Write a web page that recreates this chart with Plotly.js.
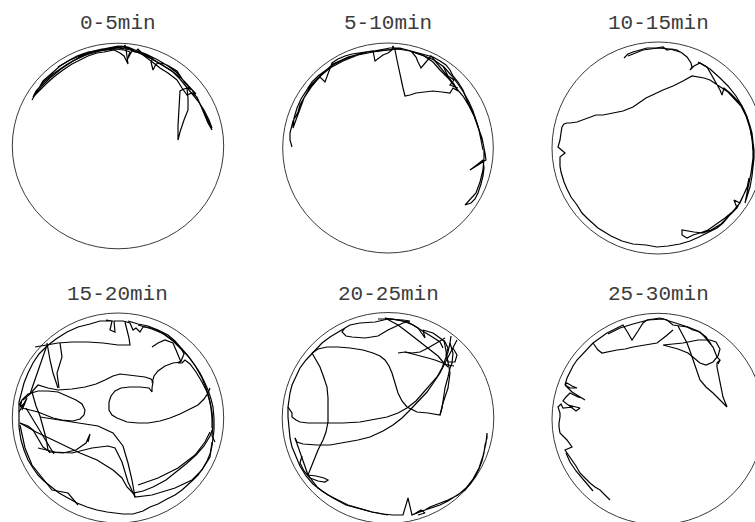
<!DOCTYPE html>
<html>
<head>
<meta charset="utf-8">
<script src="https://cdn.plot.ly/plotly-3.0.1.min.js"></script>
<style>
  html, body { margin: 0; padding: 0; background: #fff; }
  #chart { width: 755px; height: 522px; }
</style>
</head>
<body>
<div id="chart"></div>
<script>
// Session labels, one per 5-minute bin
const sessionLabels = ["0-5min", "5-10min", "10-15min", "15-20min", "20-25min", "25-30min"];

// Tracked positions relative to the arena centre (x right, y up), one stroke per list.
const track0_5 = [
  [[-86,46],[-80,56],[-75,65],[-67,72],[-58,80],[-50,85],[-41,90],[-33,93],[-25,95],[-16,97],
   [-8,98],[0,99],[5,97],[7,101],[8,97],[10,82],[6,90],[2,93],[-4,96],[-8,95],
   [-14,94],[-21,93],[-30,90],[-38,86],[-46,82],[-55,76],[-63,70],[-71,63],[-78,56],[-85,49],
   [-82,55],[-74,64],[-65,72],[-52,81],[-40,88],[-28,93],[-15,96],[-5,98],[3,99],[10,98],
   [14,96],[17,94],[20,97],[24,93],[30,90],[35,88],[33,84],[35,76],[38,82],[43,83],
   [49,81],[54,78],[59,75],[63,69],[67,63],[71,59],[74,56],[70,58],[66,57],[62,55],
   [61,40],[60,20],[60,6],[62,14],[66,26],[70,36],[70,48],[69,58],[72,57],[74,56],
   [79,48],[85,36],[90,26],[94,16],[92,20],[90,23],[85,35],[79,49],[74,53],[69,51],
   [64,58],[59,66],[50,73],[42,78],[33,85],[25,91],[17,96],[10,99],[3,100],[-5,99],
   [-12,97],[-20,96],[-30,94],[-40,89],[-25,95],[-10,98],[0,100],[12,97],[20,95],[28,92],
   [40,86],[50,80],[58,74],[65,66],[72,58],[78,52]],
  [[-60,79],[-48,86],[-36,91],[-22,95],[-10,97],[0,98],[8,97],[16,95],[26,91],[36,86],
   [46,80],[55,74],[62,67],[68,60],[74,53],[80,45],[86,36],[91,26],[94,18]],
  [[-84,50],[-76,60],[-68,68],[-57,77],[-45,85],[-32,91],[-18,95],[-4,97],[6,96],[12,94],
   [9,86],[14,95],[22,93],[32,88],[44,81],[54,75],[62,68]]
];

const track5_10 = [
  [[-96,1],[-98,8],[-98,15],[-96,22],[-95,27],[-92,32],[-90,36],[-88,43],[-85,48],[-81,55],
   [-78,61],[-72,67],[-68,71],[-63,66],[-61,72],[-58,80],[-56,85],[-50,89],[-43,92],[-36,94],
   [-30,95],[-22,96],[-15,97],[-13,87],[-9,90],[-5,93],[0,95],[4,98],[5,102],[7,98],
   [9,88],[12,72],[15,60],[17,52],[22,53],[28,55],[36,56],[45,57],[54,56],[62,55],
   [65,60],[70,57],[66,64],[62,69],[58,74],[53,80],[48,86],[43,92],[38,86],[33,80],
   [30,86],[28,91],[23,97],[15,99],[8,99],[0,98],[-10,97],[-20,96],[-32,93],[-45,88],
   [-55,83],[-62,78],[-70,72],[-76,66],[-82,57],[-87,49],[-91,40],[-94,30],[-95,20],[-92,28],
   [-88,38],[-84,50],[-76,62],[-66,74],[-55,84],[-40,91],[-25,95],[-10,98],[2,100],[12,100],
   [20,98],[28,96],[38,93],[45,91],[52,87],[58,83],[62,78],[65,72],[70,66],[75,58],
   [78,50],[82,42],[86,33],[89,25],[92,15],[95,5],[97,-5],[98,-12],[90,-17],[82,-22],
   [90,-16],[95,-12],[96,-20],[95,-28],[93,-36],[90,-45],[87,-51],[83,-55],[77,-57],[82,-52],
   [88,-45],[92,-34],[95,-22],[96,-10],[96,0],[94,10],[90,22],[86,32],[81,42],[75,52],
   [68,60],[60,70],[52,78],[45,86],[36,92],[25,96]],
  [[-80,60],[-70,70],[-58,80],[-45,87],[-30,93],[-15,96],[0,98],[10,99],[22,97],[34,93],
   [46,88],[56,81],[63,73],[70,64],[76,55],[81,46],[85,37],[88,28],[91,18],[93,8],[95,-2]],
  [[55,82],[60,72],[66,68],[62,63],[70,60]]
];

const track10_15 = [
  [[-34,90],[-30,94],[-25,96],[-18,98],[-11,100],[-1,100],[5,101],[9,98],[14,99],[19,98],
   [24,95],[29,91],[33,85],[34,81],[32,78],[36,82],[42,85],[49,81],[55,71],[58,66],
   [62,58],[64,53],[66,60],[72,55],[76,51],[79,48],[82,45],[86,38],[89,31],[92,22],
   [94,15],[95,6],[96,-2],[96,-10],[95,-19],[94,-28],[92,-39],[89,-50],[87,-55],[90,-40],
   [93,-25],[95,-10],[95,5],[92,20],[88,32],[83,42],[76,50],[70,56],[64,60],[58,64],
   [52,68],[46,70],[40,71],[34,72],[25,67],[15,62],[5,58],[-2,55],[-12,50],[-25,41],
   [-35,37],[-45,35],[-55,33],[-62,33],[-70,30],[-81,26],[-88,25],[-91,25],[-94,24],[-96,21],
   [-97,15],[-98,8],[-100,1],[-93,-5],[-98,-9],[-98,-18],[-97,-24],[-94,-34],[-91,-41],[-87,-49],
   [-81,-57],[-76,-65],[-70,-71],[-60,-80],[-47,-88],[-36,-93],[-25,-96],[-12,-97],[-1,-99],[10,-98],
   [22,-96],[32,-93],[41,-89],[51,-84],[59,-80],[65,-75],[71,-68],[77,-61],[82,-55],[86,-46],
   [90,-37],[88,-40],[82,-55],[76,-52],[79,-60],[67,-70],[58,-76],[50,-82],[42,-85],[35,-87],
   [29,-90],[24,-87],[24,-82],[29,-83],[36,-84],[45,-85],[53,-82],[63,-76],[71,-68],[79,-60],
   [84,-50],[89,-40],[91,-30]],
  [[40,86],[52,79],[62,70],[70,62],[78,52],[84,42],[89,31],[92,20],[94,9],[95,-2]],
  [[-30,92],[-15,98],[0,100],[12,99],[22,96]]
];

const track15_20 = [
  [[-5,97],[-18,97],[-28,94],[-40,91],[-51,86],[-62,79],[-71,72],[-79,64],[-85,55],[-90,45],
   [-94,35],[-97,25],[-99,16],[-99,8],[-99,0],[-99,-9],[-98,-16],[-97,-22],[-94,-32],[-90,-42],
   [-85,-50],[-80,-57],[-74,-63],[-67,-69],[-59,-75],[-50,-80],[-41,-85],[-31,-89],[-21,-92],[-11,-94],
   [0,-95],[5,-96],[15,-96],[25,-93],[32,-89],[40,-86],[49,-81],[57,-77],[64,-72],[70,-67],
   [75,-62],[80,-57],[85,-50],[89,-43],[92,-36],[94,-28],[95,-22],[96,-12],[96,0],[95,11],
   [93,19],[90,28],[86,37],[82,45],[76,54],[69,63],[62,70],[55,77],[47,83],[39,88],
   [30,91],[25,91],[22,86],[18,90],[15,88],[12,95],[5,97],[-4,97],[-3,86],[-8,88],
   [-6,97],[-12,98]],
  [[10,97],[20,94],[30,92],[40,88],[50,83],[57,77],[63,70],[66,64],[63,57],[60,55],
   [64,55],[67,58],[72,54],[78,46],[84,36],[89,26],[92,16],[94,6],[95,-6],[94,-18],[97,-24]],
  [[20,93],[34,89],[46,84],[56,77],[64,69],[71,61],[78,51],[84,40],[88,30],[91,20],
   [93,10],[94,0],[94,-10]],
  [[-83,71],[-72,73],[-60,75],[-46,76],[-30,76],[-15,75],[0,73],[8,73],[12,73],[11,80],[9,88],[7,96]],
  [[-71,75],[-70,68],[-68,58],[-65,45],[-62,36],[-60,30]],
  [[-58,75],[-56,61],[-61,45],[-59,30]],
  [[-95,18],[-88,24],[-80,33],[-70,30],[-60,28],[-46,29],[-33,31],[-22,34],[-13,38],[-5,42],
   [2,44],[10,43],[20,42],[27,41],[33,39],[35,36],[34,30],[34,26],[31,30],[22,31],
   [12,31],[3,30],[-3,27],[-7,22],[-9,16],[-9,8],[-6,3],[-1,0],[9,-4],[20,-5],
   [30,-5],[42,-3],[52,0],[62,4],[72,9],[80,13],[86,19],[90,25],[92,30]],
  [[34,35],[36,42],[40,47],[47,52],[55,55],[63,56]],
  [[34,71],[40,75],[47,78],[55,75],[58,68],[60,63],[63,56]],
  [[-96,18],[-90,24],[-80,27],[-70,27],[-60,26],[-50,22],[-42,18],[-36,14],[-33,8],[-34,3],
   [-38,-1],[-45,-3],[-56,-2],[-65,0],[-72,3],[-80,6],[-88,8],[-96,10]],
  [[-99,13],[-96,18],[-98,11],[-93,15],[-96,8],[-91,20],[-99,6]],
  [[-86,26],[-82,12],[-78,2],[-75,-8],[-72,-20],[-70,-32],[-68,-35]],
  [[-92,10],[-86,0],[-80,-10],[-74,-20],[-68,-30],[-64,-36]],
  [[-98,-5],[-90,-8],[-85,-12],[-80,-20],[-75,-29],[-68,-34],[-55,-35],[-42,-32],[-32,-25],[-28,-16],[-30,-24]],
  [[-98,-5],[-82,-14],[-65,-22],[-50,-29],[-38,-35],[-21,-42],[-5,-52],[4,-60],[9,-69],[15,-75],
   [25,-73],[35,-69],[48,-62],[58,-54],[68,-46],[78,-37],[86,-28],[92,-18],[95,-10]],
  [[-78,1],[-60,-2],[-40,-5],[-20,-8],[-5,-15],[5,-28],[10,-45],[14,-62],[17,-79],[34,-77],
   [57,-70],[74,-62],[84,-52],[92,-39],[94,-24]],
  [[20,-67],[40,-60],[60,-50],[77,-37],[87,-24],[92,-14]],
  [[-98,-7],[-93,-30],[-86,-47],[-76,-60],[-66,-72],[-50,-75],[-40,-87]],
  [[-71,73],[-76,58],[-80,46],[-84,35],[-88,24]],
  [[-80,-30],[-63,-34],[-46,-35],[-26,-30],[-10,-28],[-3,-30],[4,-44],[10,-64],[17,-79]]
];

const track20_25 = [
  [[-43,90],[-46,86],[-42,82],[-36,81],[-23,80],[-10,82],[0,88],[8,92],[15,95],[22,97],
   [15,98],[0,99],[-13,96],[-28,95],[-38,93],[-43,90],[-50,86],[-58,81],[-66,75],[-76,65],
   [-82,58],[-88,50],[-92,42],[-96,33],[-98,25],[-99,18],[-100,11],[-100,1],[-99,-9],[-98,-20],
   [-96,-29],[-92,-38],[-88,-48],[-82,-58],[-75,-66],[-66,-73],[-55,-80],[-42,-87],[-28,-91],[-16,-94],
   [-5,-96],[5,-97],[15,-97],[20,-80],[24,-97],[30,-94],[37,-92],[44,-90],[52,-87],[60,-83],
   [68,-78],[77,-72],[83,-65],[87,-59],[91,-51],[94,-43],[96,-35],[97,-27],[99,-20],[99,-15],
   [98,-25],[95,-38],[91,-50],[85,-61],[78,-70],[70,-77],[60,-82],[50,-86],[42,-89],[37,-92],
   [30,-95],[24,-97]],
  [[-76,65],[-70,69],[-61,71],[-50,71],[-38,70],[-25,68],[-15,65],[-8,62],[-3,58],[1,52],
   [4,45],[7,35],[10,25],[14,17],[19,11],[25,8],[29,6],[40,5],[52,3],[54,10],
   [55,18],[57,30],[60,41],[62,50],[64,55],[65,65],[62,75]],
  [[-76,65],[-72,58],[-68,51],[-64,40],[-61,31],[-60,20],[-60,6],[-60,-4],[-62,-14],[-65,-22],
   [-70,-32],[-74,-42],[-78,-50],[-80,-57],[-72,-58],[-64,-60],[-60,-62],[-63,-64],[-70,-63],[-78,-60],
   [-84,-53],[-88,-45],[-86,-38]],
  [[-100,11],[-96,5],[-96,1],[-92,-2],[-88,-4],[-80,-5],[-70,-5],[-61,-5],[-45,-5],[-28,-4],
   [-12,-1],[-1,1],[10,5],[19,10],[28,17],[35,25],[42,33],[49,41],[54,50],[57,58],
   [60,66],[62,75],[63,82]],
  [[-93,-20],[-91,-24],[-85,-26],[-71,-27],[-58,-27],[-45,-25],[-30,-22],[-18,-19],[-5,-13],[5,-7],
   [14,0],[22,8],[30,17],[39,26],[46,36],[52,45],[57,55],[62,65],[66,72],[69,78]],
  [[-3,100],[10,98],[20,96],[30,90],[37,80],[35,88],[45,85],[52,80],[57,76],[60,70],
   [58,63],[60,56],[67,56],[69,63],[65,70]],
  [[-10,99],[5,99],[15,97],[25,93],[33,88],[40,84],[46,80],[52,76],[55,70]],
  [[10,65],[17,66],[24,65],[32,66],[40,70],[50,76],[57,80]],
  [[17,66],[30,63],[40,60],[47,58],[55,55],[60,53],[66,52]],
  [[-3,100],[5,96],[10,93],[18,87],[27,80],[35,74],[42,69],[50,62],[55,56],[60,51]],
  [[56,78],[58,68],[60,56],[62,45],[60,30],[55,15],[52,3]],
  [[-93,-20],[-86,-40],[-80,-57],[-70,-70],[-60,-77],[-40,-87],[-16,-94],[0,-97]],
  [[28,-95],[33,-92],[37,-95],[30,-97]]
];

const track25_30 = [
  [[-48,-81],[-53,-76],[-58,-71],[-63,-68],[-68,-64],[-73,-59],[-78,-54],[-82,-47],[-86,-41],[-90,-35],
   [-93,-31],[-86,-28],[-91,-21],[-95,-17],[-98,-14],[-99,-8],[-99,-4],[-98,2],[-98,6],[-100,12],
   [-97,15],[-95,11],[-88,12],[-85,12],[-90,14],[-78,11],[-82,8],[-95,18],[-92,22],[-88,26],
   [-84,24],[-80,22],[-76,21],[-73,19],[-78,22],[-86,27],[-93,34],[-88,31],[-81,31],[-86,33],
   [-91,36],[-93,34],[-91,41],[-88,47],[-85,53],[-81,59],[-76,64],[-71,69],[-65,76],[-58,81],
   [-51,86],[-43,90],[-35,94],[-30,86],[-26,79],[-20,88],[-15,96],[-11,99],[-5,100],[2,101],
   [9,99],[15,94],[22,93],[29,92],[35,89],[42,87],[46,83],[49,79],[52,76],[55,72],
   [57,67],[59,62],[62,59],[60,55]],
  [[-50,85],[-38,91],[-25,95],[-10,99],[5,100],[18,96],[30,92],[40,88],[48,82],[53,75]],
  [[-65,-72],[-74,-62],[-82,-52],[-88,-43],[-92,-34]],
  [[-65,76],[-60,69],[-56,66],[-48,68],[-41,69],[-33,70],[-25,72],[-13,74],[-1,76],[8,83],[15,89]],
  [[5,74],[20,70],[30,66],[42,56],[48,54],[55,57],[60,63],[62,70],[58,77],[52,79],[40,79],[25,76],[5,74]],
  [[20,93],[25,84],[29,76],[32,68],[35,59],[38,50],[42,39],[48,32],[55,26],[62,19],
   [69,12],[65,22],[62,36],[60,46],[59,52],[59,56],[62,59]]
];

const tracks = [track0_5, track5_10, track10_15, track15_20, track20_25, track25_30];

// Page geometry: arena centre and radii (px) for each panel
const W = 755, H = 522;
const arenas = [
  {cx: 118, cy: 146, rx: 105.7, ry: 102.8, ty: 24},
  {cx: 388, cy: 148, rx: 105.3, ry: 105.0, ty: 24},
  {cx: 658, cy: 148, rx: 106.0, ry: 106.0, ty: 24},
  {cx: 118, cy: 418, rx: 105.7, ry: 105.0, ty: 294},
  {cx: 388, cy: 418, rx: 105.8, ry: 105.5, ty: 294},
  {cx: 658, cy: 419, rx: 106.0, ry: 105.7, ty: 294}
];

function flatten(strokes) {
  const xs = [], ys = [];
  strokes.forEach((s, i) => {
    if (i > 0) { xs.push(null); ys.push(null); }
    s.forEach(p => { xs.push(p[0]); ys.push(p[1]); });
  });
  return {xs, ys};
}

const traces = [];
const layout = {
  width: W, height: H,
  margin: {l: 0, r: 0, t: 0, b: 0},
  paper_bgcolor: '#ffffff',
  plot_bgcolor: 'rgba(0,0,0,0)',
  showlegend: false,
  shapes: [],
  annotations: []
};

arenas.forEach((a, i) => {
  const pad = 3;
  const L = Math.max(0, a.cx - a.rx - pad), R = Math.min(W, a.cx + a.rx + pad);
  const T = Math.max(0, a.cy - a.ry - pad), B = Math.min(H, a.cy + a.ry + pad);
  const n = i === 0 ? '' : String(i + 1);
  const axCommon = {visible: false, showgrid: false, zeroline: false, fixedrange: true};
  layout['xaxis' + n] = Object.assign({}, axCommon, {
    domain: [L / W, R / W], range: [L - a.cx, R - a.cx], anchor: 'y' + n
  });
  layout['yaxis' + n] = Object.assign({}, axCommon, {
    domain: [1 - B / H, 1 - T / H], range: [a.cy - B, a.cy - T], anchor: 'x' + n
  });
  layout.shapes.push({
    type: 'circle', xref: 'x' + n, yref: 'y' + n,
    x0: -a.rx, x1: a.rx, y0: -a.ry, y1: a.ry,
    line: {color: '#3a3a3a', width: 1}, fillcolor: 'rgba(0,0,0,0)', layer: 'below'
  });
  const f = flatten(tracks[i]);
  traces.push({
    type: 'scatter', mode: 'lines', x: f.xs, y: f.ys,
    xaxis: 'x' + n, yaxis: 'y' + n,
    line: {color: '#000000', width: 1.2}, hoverinfo: 'skip', connectgaps: false
  });
  layout.annotations.push({
    xref: 'paper', yref: 'paper', x: a.cx / W, y: 1 - a.ty / H,
    xanchor: 'center', yanchor: 'middle', showarrow: false,
    text: sessionLabels[i],
    font: {family: 'Liberation Mono, Courier New, monospace', size: 21, color: '#3c3c3c'}
  });
});

Plotly.newPlot('chart', traces, layout, {staticPlot: true, displayModeBar: false});
</script>
</body>
</html>
